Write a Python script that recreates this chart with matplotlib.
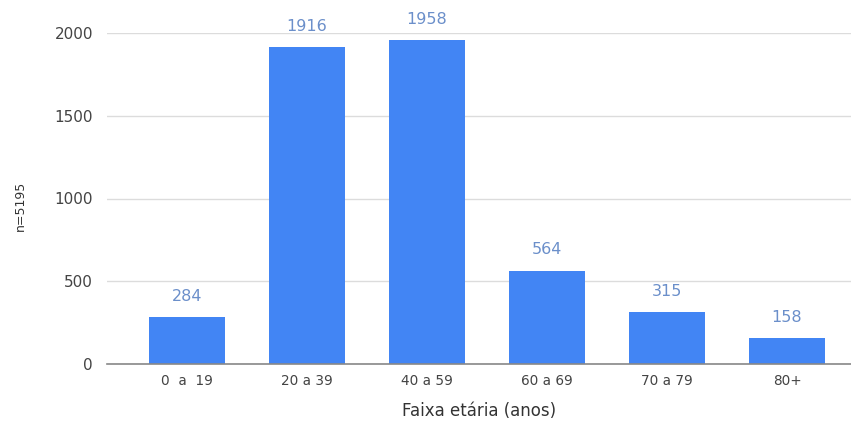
import matplotlib.pyplot as plt

# dados
faixas = ['0  a  19', '20 a 39', '40 a 59', '60 a 69', '70 a 79', '80+']
casos = [284, 1916, 1958, 564, 315, 158]
yticks = [0, 500, 1000, 1500, 2000]

plt.rcParams['font.family'] = ['DejaVu Sans']

fig = plt.figure(figsize=(8.51, 4.21), dpi=100)
ax = fig.add_axes([107 / 851, 1 - 364 / 421, 1 - 107 / 851, (364 - 33) / 421])

x = range(len(faixas))
ax.bar(x, casos, width=0.64, color='#4285F4', zorder=3)

for xi, v in zip(x, casos):
    ax.annotate(str(v), (xi, v), xytext=(0, 15), textcoords='offset points',
                ha='center', va='center', fontsize=11.5, color='#6b8fca',
                annotation_clip=False)

ax.set_xlim(-0.667, 5.533)
ax.set_ylim(0, 2000)
ax.set_yticks(yticks)
ax.set_xticks(list(x))
ax.set_xticklabels(faixas)
ax.tick_params(axis='both', length=0, colors='#444444')
ax.tick_params(axis='y', pad=10, labelsize=11)
ax.tick_params(axis='x', pad=7, labelsize=9.8)
ax.grid(axis='y', color='#dcdcdc', linewidth=1, zorder=0)
for s in ['top', 'right', 'left']:
    ax.spines[s].set_visible(False)
ax.spines['bottom'].set_color('#888888')
ax.spines['bottom'].set_linewidth(1.2)
ax.spines['bottom'].set_zorder(4)

ax.set_xlabel('Faixa etária (anos)', fontsize=12, color='#333333', labelpad=10)
fig.text(20 / 851, 1 - 206 / 421, 'n=5195', rotation=90, ha='center', va='center',
         fontsize=9, color='#333333')

fig.savefig('out.png', dpi=100)
